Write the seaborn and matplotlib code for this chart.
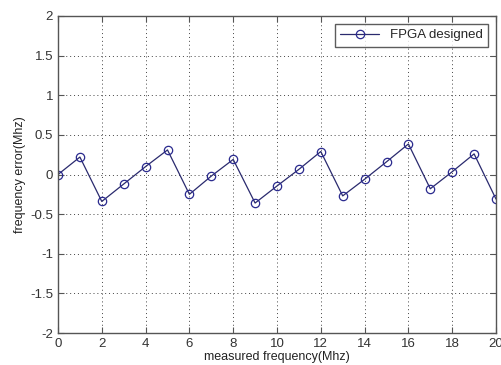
import matplotlib
matplotlib.use("Agg")
import matplotlib.pyplot as plt
import seaborn as sns
import pandas as pd

freq = list(range(0, 21))
error = [0.0, 0.22, -0.34, -0.12, 0.10, 0.31, -0.25, -0.02, 0.19, -0.36, -0.145,
         0.065, 0.29, -0.27, -0.06, 0.16, 0.385, -0.18, 0.035, 0.26, -0.31]
series_label = "FPGA designed"
xticks = list(range(0, 21, 2))
yticks = [-2, -1.5, -1, -0.5, 0, 0.5, 1, 1.5, 2]

sns.set_style("white")
plt.rcParams['font.family'] = ['Liberation Sans', 'DejaVu Sans']

df = pd.DataFrame({"freq": freq, "error": error})

fig = plt.figure(figsize=(5.02, 3.65), dpi=100)
ax = fig.add_axes([58/502, 32/365, 438/502, 317/365])

sns.lineplot(data=df, x="freq", y="error", ax=ax, color="#2a2a6e", linewidth=0.9,
             marker="o", markersize=6, markerfacecolor="none",
             markeredgecolor="#2a2a8e", markeredgewidth=0.9, label=series_label)

ax.set_xlim(0, 20)
ax.set_ylim(-2, 2)
ax.set_xticks(xticks)
ax.set_yticks(yticks)
ax.set_yticklabels(["-2", "-1.5", "-1", "-0.5", "0", "0.5", "1", "1.5", "2"])
ax.grid(True, linestyle=(0, (1, 3)), color="#444444", linewidth=0.7)
for s in ax.spines.values():
    s.set_color("#555555")
    s.set_linewidth(1.0)
ax.tick_params(direction="in", length=4, width=0.8, colors="#555555",
               labelcolor="#333333", labelsize=9.5, top=True, right=True,
               bottom=True, left=True)
ax.set_xlabel("measured frequency(Mhz)", fontsize=9, color="#222222", labelpad=1)
ax.set_ylabel("frequency error(Mhz)", fontsize=9, color="#222222", labelpad=3)

leg = ax.legend(loc="upper right", frameon=True, fancybox=False, fontsize=9.5,
                borderpad=0.4, handlelength=3, borderaxespad=0.6)
leg.get_frame().set_edgecolor("#333333")
leg.get_frame().set_linewidth(1.0)

fig.savefig("out.png", dpi=100)
